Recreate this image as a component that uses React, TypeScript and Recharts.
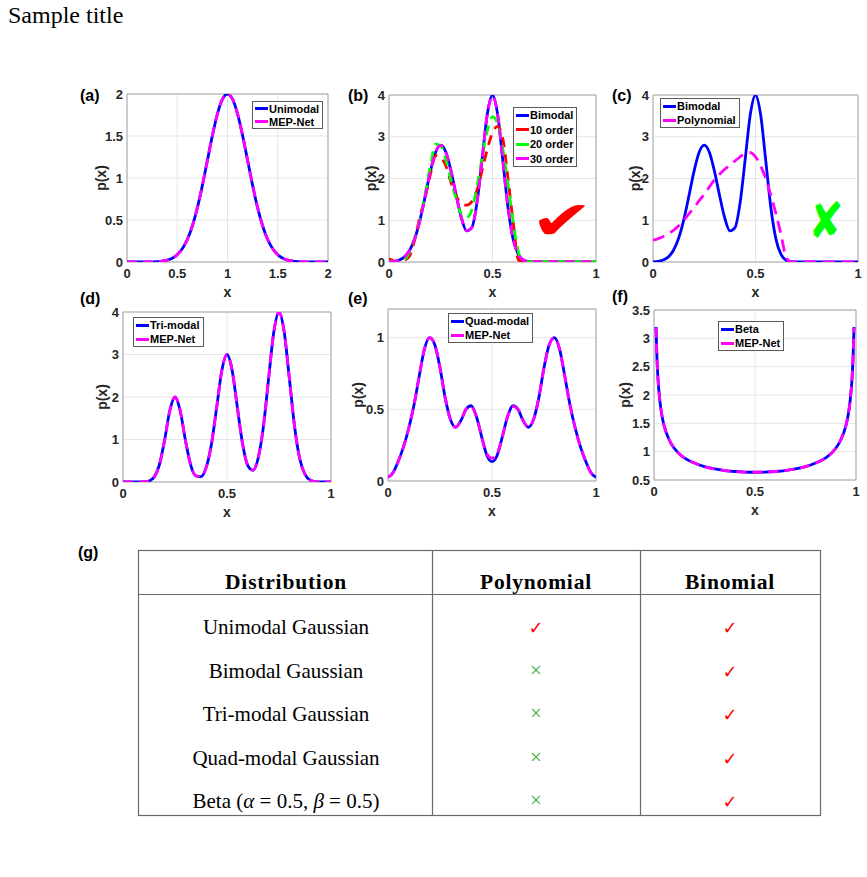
import React from 'react';
import { LineChart, Line, XAxis, YAxis, CartesianGrid, Legend, ReferenceArea, ReferenceDot } from 'recharts';

const SANS = '"Liberation Sans", Arial, Helvetica, sans-serif';
const SERIF = '"Liberation Serif", "Times New Roman", serif';

// ---------- x grids ----------
const x01 = [0, 0.025, 0.05, 0.075, 0.1, 0.125, 0.15, 0.175, 0.2, 0.225, 0.25, 0.275, 0.3, 0.325, 0.35, 0.375, 0.4, 0.425, 0.45, 0.475, 0.5, 0.525, 0.55, 0.575, 0.6, 0.625, 0.65, 0.675, 0.7, 0.725, 0.75, 0.775, 0.8, 0.825, 0.85, 0.875, 0.9, 0.925, 0.95, 0.975, 1];
const x02 = [0, 0.05, 0.1, 0.15, 0.2, 0.25, 0.3, 0.35, 0.4, 0.45, 0.5, 0.55, 0.6, 0.65, 0.7, 0.75, 0.8, 0.85, 0.9, 0.95, 1, 1.05, 1.1, 1.15, 1.2, 1.25, 1.3, 1.35, 1.4, 1.45, 1.5, 1.55, 1.6, 1.65, 1.7, 1.75, 1.8, 1.85, 1.9, 1.95, 2];
const xBeta = [0.01, 0.015, 0.02, 0.03, 0.04, 0.05, 0.075, 0.1, 0.15, 0.2, 0.25, 0.3, 0.35, 0.4, 0.45, 0.5, 0.55, 0.6, 0.65, 0.7, 0.75, 0.8, 0.85, 0.9, 0.925, 0.95, 0.96, 0.97, 0.98, 0.985, 0.99];

// ---------- (a) ----------
const unimodalTrue = [0, 0, 0, 0.0002, 0.0006, 0.0017, 0.0042, 0.0099, 0.022, 0.045, 0.087, 0.157, 0.268, 0.429, 0.645, 0.912, 1.21, 1.507, 1.764, 1.938, 2.0, 1.938, 1.764, 1.507, 1.21, 0.912, 0.645, 0.429, 0.268, 0.157, 0.087, 0.045, 0.022, 0.0099, 0.0042, 0.0017, 0.0006, 0.0002, 0, 0, 0];
const unimodalMep = [0, 0, 0, 0.0002, 0.0006, 0.0017, 0.0042, 0.0099, 0.022, 0.045, 0.088, 0.158, 0.268, 0.429, 0.645, 0.912, 1.21, 1.507, 1.764, 1.938, 2.0, 1.938, 1.764, 1.507, 1.21, 0.912, 0.645, 0.429, 0.268, 0.158, 0.088, 0.045, 0.022, 0.0099, 0.0042, 0.0017, 0.0006, 0.0002, 0, 0, 0];

// ---------- (b) / (c) ----------
const bimodalTrue = [0.005, 0.016, 0.047, 0.123, 0.282, 0.569, 1.01, 1.577, 2.17, 2.63, 2.8, 2.63, 2.17, 1.586, 1.054, 0.745, 0.823, 1.422, 2.473, 3.546, 4.0, 3.53, 2.426, 1.299, 0.541, 0.176, 0.044, 0.009, 0.001, 0, 0, 0, 0, 0, 0, 0, 0, 0, 0, 0, 0];
const order10 = [0.08, 0.02, 0.0, 0.04, 0.15, 0.55, 1.1, 1.55, 2.1, 2.55, 2.5, 2.3, 1.9, 1.58, 1.4, 1.36, 1.45, 1.72, 2.2, 2.7, 3.1, 3.25, 2.95, 2.0, 0.95, 0.05, 0, 0, 0, 0, 0, 0, 0, 0, 0, 0, 0, 0, 0, 0, 0];
const order20 = [0.03, 0, 0, 0.05, 0.25, 0.6, 1.02, 1.65, 2.3, 2.82, 2.78, 2.45, 1.95, 1.5, 1.15, 1.06, 1.25, 1.8, 2.5, 3.15, 3.48, 3.3, 2.7, 1.85, 0.95, 0.25, 0, 0, 0, 0, 0, 0, 0, 0, 0, 0, 0, 0, 0, 0, 0];
const order30 = [0.005, 0.016, 0.047, 0.123, 0.282, 0.57, 1.01, 1.577, 2.17, 2.63, 2.79, 2.63, 2.17, 1.586, 1.054, 0.75, 0.823, 1.422, 2.473, 3.54, 3.97, 3.53, 2.426, 1.299, 0.541, 0.176, 0.044, 0.009, 0.001, 0, 0, 0, 0, 0, 0, 0, 0, 0, 0, 0, 0];
const polynomialFit = [0.52, 0.56, 0.61, 0.68, 0.76, 0.87, 1.0, 1.15, 1.3, 1.47, 1.62, 1.8, 1.97, 2.1, 2.22, 2.32, 2.42, 2.52, 2.6, 2.62, 2.52, 2.3, 2.0, 1.6, 1.15, 0.65, 0.1, 0, 0, 0, 0, 0, 0, 0, 0, 0, 0, 0, 0, 0, 0];

// ---------- (d) ----------
const trimodalTrue = [0, 0, 0, 0.0003, 0.0034, 0.024, 0.118, 0.406, 0.984, 1.676, 2.0, 1.676, 0.985, 0.41, 0.141, 0.125, 0.345, 0.885, 1.744, 2.62, 3.0, 2.62, 1.745, 0.894, 0.386, 0.277, 0.564, 1.303, 2.43, 3.53, 4.0, 3.53, 2.43, 1.3, 0.54, 0.18, 0.044, 0.009, 0.001, 0, 0];
const trimodalMep = [0, 0, 0, 0.0003, 0.0034, 0.024, 0.118, 0.406, 0.984, 1.676, 2.0, 1.676, 0.985, 0.41, 0.15, 0.13, 0.345, 0.885, 1.744, 2.62, 3.0, 2.62, 1.745, 0.894, 0.39, 0.28, 0.564, 1.303, 2.43, 3.53, 4.0, 3.53, 2.43, 1.3, 0.54, 0.18, 0.044, 0.009, 0.001, 0, 0];

// ---------- (e) ----------
const quadTrue = [0.025, 0.06, 0.14, 0.24, 0.37, 0.53, 0.73, 0.92, 1.0, 0.95, 0.79, 0.58, 0.43, 0.375, 0.42, 0.5, 0.525, 0.45, 0.31, 0.18, 0.135, 0.18, 0.31, 0.45, 0.525, 0.5, 0.42, 0.375, 0.43, 0.58, 0.79, 0.95, 1.0, 0.92, 0.73, 0.53, 0.37, 0.24, 0.14, 0.06, 0.025];
const quadMep = [0.025, 0.06, 0.14, 0.24, 0.37, 0.53, 0.73, 0.92, 1.0, 0.95, 0.79, 0.58, 0.43, 0.375, 0.42, 0.5, 0.52, 0.45, 0.31, 0.19, 0.16, 0.19, 0.31, 0.45, 0.52, 0.5, 0.42, 0.375, 0.43, 0.58, 0.79, 0.95, 1.0, 0.92, 0.73, 0.53, 0.37, 0.24, 0.14, 0.06, 0.025];

// ---------- (f) ----------
const betaTrue = [3.2, 2.62, 2.27, 1.87, 1.62, 1.46, 1.21, 1.06, 0.89, 0.8, 0.735, 0.695, 0.667, 0.65, 0.64, 0.637, 0.64, 0.65, 0.667, 0.695, 0.735, 0.8, 0.89, 1.06, 1.21, 1.46, 1.62, 1.87, 2.27, 2.62, 3.2];
const betaMep = [3.19, 2.62, 2.27, 1.87, 1.62, 1.46, 1.21, 1.06, 0.89, 0.8, 0.735, 0.695, 0.667, 0.65, 0.64, 0.637, 0.64, 0.65, 0.667, 0.695, 0.735, 0.8, 0.89, 1.06, 1.21, 1.46, 1.62, 1.87, 2.27, 2.62, 3.19];

// ---------- ticks ----------
const ticksX02 = [0, 0.5, 1, 1.5, 2];
const ticksX01 = [0, 0.5, 1];
const ticksYa = [0, 0.5, 1, 1.5, 2];
const ticksY04 = [0, 1, 2, 3, 4];
const ticksYe = [0, 0.5, 1];
const ticksYf = [0.5, 1, 1.5, 2, 2.5, 3, 3.5];

// ---------- table ----------
const tableHeaders = ['Distribution', 'Polynomial', 'Binomial'];
const tableRows = ['Unimodal Gaussian', 'Bimodal Gaussian', 'Tri-modal Gaussian', 'Quad-modal Gaussian', 'Beta (α = 0.5, β = 0.5)'];
const polynomialOk = [true, false, false, false, false];
const binomialOk = [true, true, true, true, true];

const BLUE = '#0000ff';
const MAGENTA = '#ff00ff';
const RED = '#ff0000';
const GREEN = '#00ff00';

type S = { name: string; values: number[]; color: string; dash?: string };
type Mark = { x: number; y: number; glyph: string; color: string; size: number; sx: number };
type PanelProps = {
  px: number; py: number; pw: number; ph: number;
  xs: number[]; xDomain: [number, number]; xTicks: number[];
  yDomain: [number, number]; yTicks: number[];
  series: S[];
  legendAt: [number, number];
  rowH: number;
  yLabelDx: number;
  mark?: Mark;
};

const PADL = 50, PADT = 10, PADR = 9, PADB = 45;

const tickStyle = { fontSize: 13, fontWeight: 700, fill: '#262626', fontFamily: SANS };
const axisTitleStyle: React.CSSProperties = { fontSize: 14, fontWeight: 700, fill: '#262626', fontFamily: SANS };

function LegendBox({ items, rowH }: { items: S[]; rowH: number }) {
  return (
    <div style={{ background: '#fff', border: '1px solid #5a5a5a', padding: '0px 3px 0px 2px', fontFamily: SANS, fontWeight: 700, fontSize: 11, color: '#000', whiteSpace: 'nowrap' }}>
      {items.map((it, i) => (
        <div key={i} style={{ display: 'flex', alignItems: 'center', height: rowH }}>
          <span style={{ display: 'inline-block', width: 13, height: 3, background: it.color, marginRight: 1 }} />
          <span>{it.name}</span>
        </div>
      ))}
    </div>
  );
}

function Panel(p: PanelProps) {
  const data = p.xs.map((x, i) => {
    const row: any = { x };
    p.series.forEach((s, k) => { row['s' + k] = s.values[i]; });
    return row;
  });
  const W = p.pw + PADL + PADR;
  const H = p.ph + PADT + PADB;
  const cl = p.px - PADL;
  const ct = p.py - PADT;
  const xLabel = (props: any) => {
    const vb = props.viewBox || {};
    return <text x={vb.x + vb.width / 2} y={vb.y + 35} textAnchor="middle" style={axisTitleStyle}>x</text>;
  };
  const yLabel = (props: any) => {
    const vb = props.viewBox || {};
    const cx = vb.x + vb.width - p.yLabelDx;
    const cy = vb.y + vb.height / 2;
    return <text x={cx} y={cy} transform={`rotate(-90 ${cx} ${cy})`} textAnchor="middle" dominantBaseline="central" style={axisTitleStyle}>p(x)</text>;
  };
  const m = p.mark;
  return (
    <div style={{ position: 'absolute', left: cl, top: ct }}>
      <LineChart width={W} height={H} data={data} margin={{ top: PADT, right: PADR, bottom: 0, left: 0 }}>
        <CartesianGrid stroke="#e6e6e6" strokeWidth={1} />
        <XAxis dataKey="x" type="number" domain={p.xDomain} ticks={p.xTicks} height={PADB} axisLine={false} tickLine={false} tickSize={0} tickMargin={7} tick={tickStyle} interval={0} allowDataOverflow label={xLabel} />
        <YAxis type="number" domain={p.yDomain} ticks={p.yTicks} width={PADL} axisLine={false} tickLine={false} tickSize={0} tickMargin={4} tick={tickStyle} interval={0} allowDataOverflow label={yLabel} />
        <ReferenceArea x1={p.xDomain[0]} x2={p.xDomain[1]} y1={p.yDomain[0]} y2={p.yDomain[1]} fill="none" fillOpacity={0} stroke="#a6a6a6" strokeWidth={1} />
        {p.series.map((s, k) => (
          <Line key={k} dataKey={'s' + k} name={s.name} type="monotone" stroke={s.color} strokeWidth={2.8} strokeDasharray={s.dash} dot={false} activeDot={false} isAnimationActive={false} />
        ))}
        {m && (
          <ReferenceDot x={m.x} y={m.y} r={1} fill="none" stroke="none"
            shape={(sp: any) => (
              <text x={sp.cx} y={sp.cy} textAnchor="middle" dominantBaseline="central" fontSize={m.size} fill={m.color} fontFamily='"DejaVu Sans", sans-serif'
                transform={`translate(${sp.cx} ${sp.cy}) scale(${m.sx} 1) translate(${-sp.cx} ${-sp.cy})`}>{m.glyph}</text>
            )} />
        )}
        <Legend layout="vertical" align="center" verticalAlign="middle"
          wrapperStyle={{ left: p.legendAt[0] - cl, top: p.legendAt[1] - ct, width: 'auto', height: 'auto' }}
          content={() => <LegendBox items={p.series} rowH={p.rowH} />} />
      </LineChart>
    </div>
  );
}

function italicGreek(label: string) {
  const parts = label.split(/([αβ])/);
  return parts.map((t, i) => (t === 'α' || t === 'β') ? <tspan key={i} fontStyle="italic">{t}</tspan> : <tspan key={i}>{t}</tspan>);
}

export default function App() {
  const rowBase = [634, 677.5, 721, 765, 808];
  const colX = [286, 536, 730];
  return (
    <div style={{ position: 'absolute', left: 0, top: 0, width: 867, height: 877, overflow: 'hidden', background: '#fff' }}>
      <svg width={867} height={877} style={{ position: 'absolute', left: 0, top: 0 }}>
        <text x={8} y={23} fontFamily={SERIF} fontSize={24} fill="#000">Sample title</text>
        {[['(a)', 80, 101], ['(b)', 348, 101], ['(c)', 612, 101], ['(d)', 80, 304], ['(e)', 348, 304], ['(f)', 612, 302], ['(g)', 78, 558]].map(([t, x, y]) => (
          <text key={t as string} x={x as number} y={y as number} fontFamily={SANS} fontWeight={700} fontSize={16} fill="#000">{t}</text>
        ))}
        {/* table */}
        <rect x={138.5} y={550.5} width={682} height={265} fill="none" stroke="#6a6a6a" strokeWidth={1.2} />
        <line x1={138.5} x2={820.5} y1={594.5} y2={594.5} stroke="#6a6a6a" strokeWidth={1.2} />
        <line x1={432.5} x2={432.5} y1={550.5} y2={815.5} stroke="#6a6a6a" strokeWidth={1.2} />
        <line x1={640.5} x2={640.5} y1={550.5} y2={815.5} stroke="#6a6a6a" strokeWidth={1.2} />
        {tableHeaders.map((h, i) => (
          <text key={h} x={colX[i]} y={589} textAnchor="middle" fontFamily={SERIF} fontWeight={700} fontSize={21.5} letterSpacing={0.8} fill="#000">{h}</text>
        ))}
        {tableRows.map((r, i) => (
          <g key={r}>
            <text x={colX[0]} y={rowBase[i]} textAnchor="middle" fontFamily={SERIF} fontSize={21} fill="#000">{italicGreek(r)}</text>
            {polynomialOk[i]
              ? <text x={colX[1]} y={rowBase[i]} textAnchor="middle" fontFamily='"DejaVu Sans", sans-serif' fontSize={18} fill={RED}>✓</text>
              : <text x={colX[1]} y={rowBase[i] - 1} textAnchor="middle" fontFamily={SERIF} fontSize={21} fill="#3fae3f">×</text>}
            {binomialOk[i]
              ? <text x={colX[2]} y={rowBase[i]} textAnchor="middle" fontFamily='"DejaVu Sans", sans-serif' fontSize={18} fill={RED}>✓</text>
              : <text x={colX[2]} y={rowBase[i] - 1} textAnchor="middle" fontFamily={SERIF} fontSize={21} fill="#3fae3f">×</text>}
          </g>
        ))}
      </svg>

      <Panel px={127} py={94} pw={201} ph={168} xs={x02} xDomain={[0, 2]} xTicks={ticksX02} yDomain={[0, 2]} yTicks={ticksYa}
        series={[{ name: 'Unimodal', values: unimodalTrue, color: BLUE }, { name: 'MEP-Net', values: unimodalMep, color: MAGENTA, dash: '10 6' }]}
        legendAt={[252, 101]} rowH={13} yLabelDx={26} />

      <Panel px={389} py={95} pw={207} ph={167} xs={x01} xDomain={[0, 1]} xTicks={ticksX01} yDomain={[0, 4]} yTicks={ticksY04}
        series={[
          { name: 'Bimodal', values: bimodalTrue, color: BLUE },
          { name: '10 order', values: order10, color: RED, dash: '10 7' },
          { name: '20 order', values: order20, color: GREEN, dash: '10 7' },
          { name: '30 order', values: order30, color: MAGENTA, dash: '10 6' },
        ]}
        legendAt={[513, 107]} rowH={14.5} yLabelDx={18}
        mark={{ x: 0.835, y: 1.0, glyph: '✔', color: RED, size: 54, sx: 1.4 }} />

      <Panel px={653} py={95} pw={205} ph={167} xs={x01} xDomain={[0, 1]} xTicks={ticksX01} yDomain={[0, 4]} yTicks={ticksY04}
        series={[{ name: 'Bimodal', values: bimodalTrue, color: BLUE }, { name: 'Polynomial', values: polynomialFit, color: MAGENTA, dash: '12 7' }]}
        legendAt={[660, 98]} rowH={14} yLabelDx={18}
        mark={{ x: 0.844, y: 0.98, glyph: '✘', color: GREEN, size: 50, sx: 0.85 }} />

      <Panel px={123} py={312} pw={208} ph={170} xs={x01} xDomain={[0, 1]} xTicks={ticksX01} yDomain={[0, 4]} yTicks={ticksY04}
        series={[{ name: 'Tri-modal', values: trimodalTrue, color: BLUE }, { name: 'MEP-Net', values: trimodalMep, color: MAGENTA, dash: '10 6' }]}
        legendAt={[133, 317]} rowH={14} yLabelDx={21} />

      <Panel px={388} py={309} pw={208} ph={172} xs={x01} xDomain={[0, 1]} xTicks={ticksX01} yDomain={[0, 1.2]} yTicks={ticksYe}
        series={[{ name: 'Quad-modal', values: quadTrue, color: BLUE }, { name: 'MEP-Net', values: quadMep, color: MAGENTA, dash: '10 6' }]}
        legendAt={[448, 313]} rowH={14} yLabelDx={30} />

      <Panel px={654} py={310} pw={202} ph={170} xs={xBeta} xDomain={[0, 1]} xTicks={ticksX01} yDomain={[0.5, 3.5]} yTicks={ticksYf}
        series={[{ name: 'Beta', values: betaTrue, color: BLUE }, { name: 'MEP-Net', values: betaMep, color: MAGENTA, dash: '10 6' }]}
        legendAt={[718, 321]} rowH={14} yLabelDx={29} />
    </div>
  );
}
